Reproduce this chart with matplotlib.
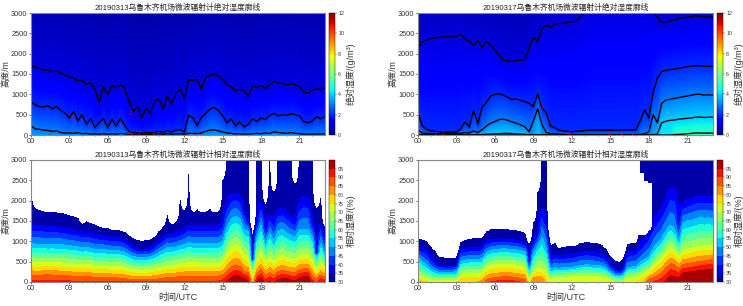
import numpy as np
import matplotlib
matplotlib.use('Agg')
import matplotlib.pyplot as plt

plt.rcParams['font.family'] = ['Liberation Sans', 'Noto Sans CJK SC', 'DejaVu Sans']

# 20 min samples, 00 to 23 UTC
hours = np.arange(70) / 3.0

# 0313 absolute humidity isolines (m), levels 1, 2, 3 g/m3
a13_h1 = [1700,1670,1640,1600,1590,1560,1570,1520,1470,1430,
          1400,1330,1350,1240,1290,1120,800,1180,1000,1210,
          1160,1240,1150,820,580,700,420,660,520,830,
          880,640,950,760,1030,1120,900,1360,1340,1370,
          1130,1420,1470,1500,1450,1370,1230,1190,1080,1130,
          1080,950,1200,1170,1210,1150,1230,1320,1280,1270,
          1230,1260,1240,1190,1060,1030,1090,1140,1120,1160]
a13_h2 = [820,740,700,690,720,640,700,600,540,420,
          580,350,500,260,400,180,310,400,180,390,
          220,410,230,90,60,50,40,60,50,70,
          90,60,110,70,120,130,70,490,420,230,
          430,530,640,680,600,470,300,400,220,320,
          200,260,400,330,420,380,480,530,470,500,
          480,520,500,470,330,300,340,450,400,450]
a13_h3 = [230,150,140,120,110,90,100,60,50,50,
          40,60,30,40,20,30,20,30,20,30,
          20,40,25,15,10,10,15,10,15,20,
          25,15,30,20,25,30,15,40,40,35,
          50,90,120,130,100,70,50,40,25,30,
          20,25,30,40,30,50,40,80,60,50,
          40,60,40,30,20,25,20,30,25,30]

# 0317 absolute humidity isolines (m), levels 1 to 5 g/m3
a17_h1 = [2150,2290,2330,2370,2390,2400,2420,2410,2410,2420,
          2480,2350,2310,2200,2330,2150,2300,2200,2090,1960,
          1840,1820,1810,1830,1840,1860,2150,2400,2300,2620,
          2700,2640,2720,2740,2750,2780,2780,2800,2900,3040,
          3150,3200,3200,3200,3200,3200,3200,3200,3200,3200,
          3200,3200,3200,3200,3150,3020,2900,2770,2780,2810,
          2830,2860,2880,2900,2910,2930,2920,2900,2910,2900]
a17_h2 = [550,220,140,100,90,80,70,70,70,70,
          150,320,200,600,280,680,800,960,1000,1010,
          980,930,870,890,850,820,780,700,1020,650,
          550,220,180,120,100,90,80,90,100,110,
          120,120,125,125,120,120,120,125,125,125,
          125,130,360,620,420,1050,1400,1560,1590,1610,
          1620,1640,1660,1680,1690,1700,1700,1690,1690,1680]
a17_h3 = [120,50,40,30,30,30,30,30,30,30,
          40,60,50,100,60,130,220,290,330,380,
          390,360,320,290,250,200,80,350,650,250,
          60,40,30,20,15,10,10,10,10,10,
          10,10,10,10,10,10,10,10,10,10,
          10,10,15,30,80,500,300,780,860,880,
          900,920,940,960,980,1000,1000,980,990,980]
a17_h4 = [0,0,0,0,0,0,0,0,0,0,
          0,0,0,0,0,10,20,25,30,30,
          40,40,35,30,25,15,0,0,10,0,
          0,0,0,0,0,0,0,0,0,0,
          0,0,0,0,0,0,0,0,0,0,
          0,0,0,0,0,0,30,300,340,360,
          370,390,400,410,420,440,440,430,440,440]
a17_h5 = [0,0,0,0,0,0,0,0,0,0,
          0,0,0,0,0,0,0,0,0,0,
          0,0,0,0,0,0,0,0,0,0,
          0,0,0,0,0,0,0,0,0,0,
          0,0,0,0,0,0,0,0,0,0,
          0,0,0,0,0,0,0,0,0,0,
          10,15,20,30,40,50,50,45,50,45]

# 0313 relative humidity: heights (m) of 30, 35, 50, 70, 85 % and surface value
r13_h30 = [2500,1800,1760,1720,1700,1710,1700,1680,1670,1630,
           1600,1570,1420,1480,1440,1400,1350,1320,1320,1260,
           1270,1250,1220,1130,1060,1020,1000,1020,1030,1100,
           1230,1350,1650,1400,1450,2000,1750,2650,1700,1780,
           1700,1720,1780,1700,1720,2500,3600,3600,3600,3600,
           3000,3400,1100,3400,3400,1900,3400,2200,3400,3400,
           3400,3300,2400,3400,3400,3400,3300,1800,2050,1300]
r13_h35 = [1410,1400,1390,1380,1370,1370,1360,1340,1320,1290,
           1280,1260,1230,1220,1200,1170,1150,1140,1120,1110,
           1100,1080,1030,950,860,820,800,810,830,900,
           1000,1080,1180,1170,1200,1250,1300,1400,1380,1380,
           1380,1380,1400,1390,1390,1500,1950,2150,2190,2100,
           1750,1530,550,1500,1940,1300,1650,1500,1780,1800,
           1700,1600,1500,1950,2100,2050,1500,700,1450,1100]
r13_h50 = [950,930,930,930,920,930,920,920,910,890,
           880,870,830,850,830,800,790,800,780,770,
           770,760,730,670,620,610,600,610,620,660,
           730,780,850,840,860,900,920,970,950,950,
           950,940,950,940,950,1000,1350,1550,1620,1550,
           1300,1250,500,1100,1400,950,1200,1000,1250,1300,
           1200,1150,1100,1300,1300,1300,1100,650,950,700]
r13_h70 = [480,470,470,480,470,470,480,470,460,450,
           440,430,420,430,420,410,400,400,390,390,
           380,380,360,330,310,300,290,300,310,330,
           350,370,400,410,420,450,460,480,470,470,
           460,470,460,470,460,500,700,850,920,860,
           680,600,180,550,720,480,620,500,620,670,
           600,580,560,650,680,680,550,300,480,350]
r13_h85 = [170,165,160,175,180,170,170,165,155,150,
           145,140,130,130,125,120,115,120,105,100,
           100,95,80,65,55,50,50,50,55,65,
           80,95,105,115,120,130,140,140,140,140,
           140,140,140,145,140,170,260,360,420,380,
           260,220,0,200,300,160,230,170,250,290,
           260,240,230,300,320,320,150,90,170,120]
r13_sfc = [91,91,91,91,91,91,91,91,91,91,
           91,91,91,91,91,91,91,91,91,91,
           91,91,91,91,91,91,91,91,91,91,
           91,91,91,91,91,91,91,91,91,91,
           91,91,91,91,91,92,96,99,101,101,
           100,96,78,96,100,92,96,93,98,100,
           100,98,96,100,102,102,92,89,95,93]

# 0317 relative humidity
r17_h30 = [1050,1030,1000,860,750,600,590,580,580,590,
           970,1020,1050,1060,1060,1080,1230,1280,1290,1290,
           1290,1280,1270,1260,1230,1200,900,1450,2200,3400,
           3000,900,950,820,850,870,880,880,950,960,
           960,950,940,900,800,620,520,480,560,920,
           950,950,3400,3400,3400,3400,3400,3400,3400,3400,
           3400,3400,3400,3400,3400,3400,3400,3400,3400,3400]
r17_h35 = [850,830,780,620,480,400,400,390,400,410,
           790,820,840,850,850,870,1000,1040,1050,1060,
           1060,1050,1040,1030,1000,960,500,1000,1200,1800,
           1500,600,680,640,660,680,690,700,740,750,
           750,740,700,680,600,420,320,280,330,720,
           770,780,900,1050,1200,1450,1650,1800,2000,2300,
           2300,1500,1950,2000,2050,2100,2100,2100,2100,2100]
r17_h50 = [600,500,420,320,260,240,240,240,240,250,
           500,540,550,560,560,570,720,780,800,810,
           820,810,800,790,770,740,300,700,900,1100,
           800,300,350,340,350,350,360,380,410,420,
           420,410,400,390,340,240,170,150,180,350,
           370,380,480,550,620,800,950,1050,1250,1400,
           1300,1000,1450,1500,1520,1550,1600,1570,1580,1560]
r17_h70 = [170,110,70,50,35,30,30,30,30,40,
           170,210,220,220,220,230,350,410,430,430,
           440,440,430,420,400,370,60,230,350,320,
           280,60,100,110,110,120,130,130,140,140,
           140,130,130,120,100,60,30,20,25,100,
           120,120,170,220,270,380,500,600,720,850,
           780,620,780,800,830,860,880,890,890,900]
r17_h85 = [0,0,0,0,0,0,0,0,0,0,
           0,0,0,0,0,0,50,90,110,120,
           130,130,120,110,90,70,0,30,40,20,
           0,0,0,0,0,0,0,0,0,0,
           0,0,0,0,0,0,0,0,0,0,
           0,0,0,0,70,110,160,230,350,450,
           430,340,430,450,470,490,510,520,540,550]
r17_sfc = [82,78,76,75,74,74,74,74,74,75,
           80,80,80,80,80,82,87,90,91,92,
           92,92,92,91,90,89,72,85,84,80,
           78,72,74,74,75,75,75,75,75,75,
           75,75,75,75,74,72,70,70,70,74,
           75,75,78,80,88,90,92,93,96,100,
           100,98,106,106,107,107,108,108,108,109]

# white hole in the 0317 field between 17 and 18 UTC
gap17_i = [52, 53, 54]
gap17_low = [1150, 1150, 1250]
gap17_high = [2700, 2500, 2450]

# red isoline labels
lab13_t = [1.5, 3.2, 5.6, 7.8, 7.8, 8.5, 9.6, 12.2, 12.8, 13.3]
lab13_h = [40, 400, 40, 540, 40, 30, 30, 30, 30, 30]
lab17_t = [1.4, 2.0, 9.7, 11.8, 14.9, 15.9, 16.8]
lab17_h = [30, 30, 650, 40, 30, 40, 40]

heights = np.arange(0, 3010, 10)
W, H = 743.0, 306.0


def abs_field(lines):
    field = np.zeros((len(heights), len(hours)))
    for i in range(len(hours)):
        zs, vs = [], []
        for level, line in zip(range(len(lines), 0, -1), lines[::-1]):
            if line[i] > 0:
                zs.append(line[i])
                vs.append(level)
        field[:, i] = np.interp(heights, [0] + zs + [5000], [vs[0] + 0.35] + vs + [0])
    return field


def rh_field(h85, h70, h50, h35, h30, sfc):
    field = np.zeros((len(heights), len(hours)))
    for i in range(len(hours)):
        zs, vs = [], []
        for level, line in zip([85, 70, 50, 35, 30], [h85, h70, h50, h35, h30]):
            if line[i] > 0:
                zs.append(line[i])
                vs.append(level)
        field[:, i] = np.interp(heights, [0] + zs + [zs[-1] + 500], [sfc[i]] + vs + [10])
    return np.minimum(field, 99.9)


def add_axes(x0, x1, y0, y1):
    return fig.add_axes([x0 / W, 1 - y1 / H, (x1 - x0) / W, (y1 - y0) / H])


def style(ax, title, xlabel=None):
    ax.set_xlim(0, 23)
    ax.set_ylim(0, 3000)
    ax.set_xticks(np.arange(0, 22, 3))
    ax.set_xticklabels(['%02d' % h for h in range(0, 22, 3)])
    ax.set_xticks(np.arange(0, 23), minor=True)
    ax.set_yticks(np.arange(0, 3001, 500))
    ax.tick_params(axis='both', which='major', labelsize=5.3, length=1.5, width=0.5, pad=1, colors='#333333')
    ax.tick_params(axis='x', which='minor', length=1, width=0.4, color='#333333')
    ax.set_title(title, fontsize=5.6, pad=2, color='#222222')
    ax.set_ylabel('高度/m', fontsize=6.2, color='#333333')
    ax.yaxis.set_label_coords(-0.07, 0.5)
    if xlabel:
        ax.set_xlabel(xlabel, fontsize=6.5, labelpad=0.5, color='#333333')
    for s in ax.spines.values():
        s.set_color('#888888')
        s.set_linewidth(0.8)


def add_cbar(mappable, cax, label, ticks):
    cb = fig.colorbar(mappable, cax=cax, ticks=ticks)
    cb.ax.tick_params(labelsize=3.8, length=1.2, width=0.3, pad=1, colors='#333333')
    cb.set_label(label, fontsize=6.5, labelpad=1.5, color='#333333')
    cb.outline.set_linewidth(0.3)


fig = plt.figure(figsize=(W / 100, H / 100), dpi=100)

panels_abs = [
    (31, 325, 329, 335, [a13_h1, a13_h2, a13_h3], lab13_t, lab13_h, '20190313乌鲁木齐机场微波辐射计绝对湿度廓线'),
    (418, 713, 717, 723, [a17_h1, a17_h2, a17_h3, a17_h4, a17_h5], lab17_t, lab17_h, '20190317乌鲁木齐机场微波辐射计绝对湿度廓线'),
]
for x0, x1, c0, c1, lines, lab_t, lab_h, title in panels_abs:
    ax = add_axes(x0, x1, 13, 135)
    pm = ax.pcolormesh(hours, heights, abs_field(lines), cmap='jet', vmin=0, vmax=12, shading='gouraud')
    for line in lines:
        ax.plot(hours, line, color='black', lw=1.0)
    for t, h in zip(lab_t, lab_h):
        ax.text(t, h, '2', color='red', fontsize=3.5, ha='center', va='center')
    style(ax, title)
    add_cbar(pm, add_axes(c0, c1, 13, 135), '绝对湿度/(g/m³)', np.arange(0, 13, 2))

rh13 = rh_field(r13_h85, r13_h70, r13_h50, r13_h35, r13_h30, r13_sfc)
rh17 = rh_field(r17_h85, r17_h70, r17_h50, r17_h35, r17_h30, r17_sfc)
for i, low, high in zip(gap17_i, gap17_low, gap17_high):
    rh17[(heights > low) & (heights < high), i] = 10

panels_rh = [
    (31, 325, 329, 335, rh13, '20190313乌鲁木齐机场微波辐射计相对湿度廓线'),
    (418, 713, 717, 723, rh17, '20190317乌鲁木齐机场微波辐射计相对湿度廓线'),
]
for x0, x1, c0, c1, field, title in panels_rh:
    ax = add_axes(x0, x1, 160, 282)
    cf = ax.contourf(hours, heights, field, levels=np.arange(30, 101, 5), cmap='jet')
    style(ax, title, '时间/UTC')
    add_cbar(cf, add_axes(c0, c1, 160, 282), '相对湿度/(%)', np.arange(30, 96, 5))

fig.savefig('out.png', dpi=100)
